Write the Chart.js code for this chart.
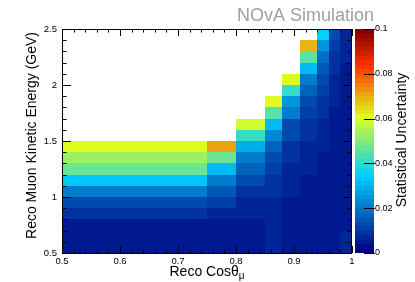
<!DOCTYPE html>
<html>
<head>
<meta charset="utf-8">
<script src="https://cdn.jsdelivr.net/npm/chart.js@4.4.1/dist/chart.umd.min.js"></script>
<style>
  html, body { margin: 0; padding: 0; background: #fff; }
</style>
</head>
<body>
<canvas id="myChart" width="415" height="282"></canvas>
<script>
// bin edges (variable width in cos theta, 0.1 GeV in energy)
let xEdges = [0.5, 0.75, 0.8, 0.85, 0.88, 0.91, 0.94, 0.96, 0.98, 1.0];
let yEdges = [0.5, 0.6, 0.7, 0.8, 0.9, 1.0, 1.1, 1.2, 1.3, 1.4, 1.5,
              1.6, 1.7, 1.8, 1.9, 2.0, 2.1, 2.2, 2.3, 2.4, 2.5];

// statistical uncertainty per cos bin, lowest energy bin first
let unc050 = [0.004, 0.004, 0.0055, 0.008, 0.012, 0.022, 0.033, 0.047, 0.054, 0.060];
let unc075 = [0.004, 0.004, 0.005, 0.007, 0.010, 0.015, 0.020, 0.030, 0.047, 0.070];
let unc080 = [0.005, 0.005, 0.005, 0.006, 0.007, 0.009, 0.012, 0.016, 0.021, 0.029, 0.040, 0.059];
let unc085 = [0.006, 0.006, 0.006, 0.006, 0.007, 0.008, 0.009, 0.011, 0.014, 0.017, 0.023, 0.031, 0.045, 0.061];
let unc088 = [0.005, 0.005, 0.005, 0.005, 0.005, 0.006, 0.006, 0.007, 0.008, 0.009, 0.012, 0.014, 0.020, 0.026, 0.041, 0.060];
let unc091 = [0.005, 0.005, 0.005, 0.005, 0.005, 0.005, 0.005, 0.006, 0.006, 0.007, 0.008, 0.009, 0.011, 0.013, 0.016, 0.021, 0.030, 0.045, 0.069];
let unc094 = [0.005, 0.005, 0.005, 0.005, 0.005, 0.005, 0.005, 0.005, 0.005, 0.006, 0.006, 0.007, 0.008, 0.009, 0.010, 0.012, 0.015, 0.019, 0.025, 0.034];
let unc096 = [0.004, 0.004, 0.004, 0.004, 0.004, 0.004, 0.004, 0.004, 0.004, 0.005, 0.005, 0.005, 0.005, 0.006, 0.006, 0.007, 0.008, 0.009, 0.011, 0.013];
let unc098 = [0.006, 0.006, 0.005, 0.005, 0.005, 0.005, 0.005, 0.005, 0.005, 0.005, 0.005, 0.005, 0.005, 0.005, 0.005, 0.005, 0.005, 0.006, 0.006, 0.007];

let columns = [unc050, unc075, unc080, unc085, unc088, unc091, unc094, unc096, unc098];

let xTickLabels = ['0.5', '0.6', '0.7', '0.8', '0.9', '1'];
let yTickLabels = ['0.5', '1', '1.5', '2', '2.5'];
let zTickLabels = ['0', '0.02', '0.04', '0.06', '0.08', '0.1'];

const zMax = 0.1;
const nBands = 50;

// ROOT style rainbow palette
const palStops = [0.00, 0.34, 0.61, 0.84, 1.00];
const palR = [0.00, 0.00, 0.87, 1.00, 0.51];
const palG = [0.00, 0.81, 1.00, 0.20, 0.00];
const palB = [0.51, 1.00, 0.12, 0.00, 0.00];

function bandColor(idx) {
    let t = idx / (nBands - 1);
    let k = 0;
    while (k < palStops.length - 2 && t > palStops[k + 1]) k++;
    let f = (t - palStops[k]) / (palStops[k + 1] - palStops[k]);
    let r = Math.round(255 * (palR[k] + f * (palR[k + 1] - palR[k])));
    let g = Math.round(255 * (palG[k] + f * (palG[k + 1] - palG[k])));
    let b = Math.round(255 * (palB[k] + f * (palB[k + 1] - palB[k])));
    return 'rgb(' + r + ',' + g + ',' + b + ')';
}

function valueColor(v) {
    let idx = Math.floor(v / zMax * nBands);
    if (idx > nBands - 1) idx = nBands - 1;
    if (idx < 0) idx = 0;
    return bandColor(idx);
}

let cells = [];
columns.forEach((col, i) => {
    col.forEach((v, j) => {
        cells.push({
            x: (xEdges[i] + xEdges[i + 1]) / 2,
            y: (yEdges[j] + yEdges[j + 1]) / 2,
            x0: xEdges[i], x1: xEdges[i + 1],
            y0: yEdges[j], y1: yEdges[j + 1],
            v: v
        });
    });
});

const FONT = "'Liberation Sans', Arial, sans-serif";

function line(ctx, x0, y0, x1, y1) {
    ctx.beginPath();
    ctx.moveTo(x0, y0);
    ctx.lineTo(x1, y1);
    ctx.stroke();
}

const heatPlugin = {
    id: 'heat',
    beforeDatasetsDraw(chart) {
        const ctx = chart.ctx;
        const xs = chart.scales.x, ys = chart.scales.y, zs = chart.scales.z;
        const area = chart.chartArea;
        ctx.save();

        // cells
        chart.data.datasets[0].data.forEach(c => {
            let l = Math.round(xs.getPixelForValue(c.x0));
            let r = Math.round(xs.getPixelForValue(c.x1));
            let t = Math.round(ys.getPixelForValue(c.y1));
            let b = Math.round(ys.getPixelForValue(c.y0));
            ctx.fillStyle = valueColor(c.v);
            ctx.fillRect(l, t, r - l, b - t);
        });

        // frame
        let L = Math.round(area.left), R = Math.round(area.right);
        let T = Math.round(area.top), B = Math.round(area.bottom);
        ctx.strokeStyle = '#000';
        ctx.lineWidth = 1;
        ctx.strokeRect(L + 0.5, T + 0.5, R - L - 1, B - T);

        // x ticks, minor every 0.02
        for (let k = 0; k <= 25; k++) {
            let v = 0.5 + k * 0.02;
            let px = Math.round(xs.getPixelForValue(v)) + 0.5;
            let len = (k % 5 === 0) ? 7 : 3.5;
            line(ctx, px, B, px, B - len);
            line(ctx, px, T, px, T + len);
        }
        // y ticks, minor every 0.1
        for (let k = 0; k <= 20; k++) {
            let v = 0.5 + k * 0.1;
            let py = Math.round(ys.getPixelForValue(v)) + 0.5;
            let len = (k % 5 === 0) ? 9 : 4.5;
            line(ctx, L, py, L + len, py);
            line(ctx, R, py, R - len, py);
        }

        // colour bar
        let cx0 = R + 3, cx1 = R + 22;
        for (let i = 0; i < nBands; i++) {
            let top = Math.round(zs.getPixelForValue((i + 1) * zMax / nBands));
            let bot = Math.round(zs.getPixelForValue(i * zMax / nBands));
            ctx.fillStyle = bandColor(i);
            ctx.fillRect(cx0, top, cx1 - cx0, bot - top);
        }
        zs.ticks.forEach(t => {
            let py = Math.round(zs.getPixelForValue(t.value)) + 0.5;
            line(ctx, cx1 - 10, py, cx1 + 1, py);
        });

        // titles
        ctx.fillStyle = '#000';
        ctx.textBaseline = 'alphabetic';
        let main = 'Reco Cos\u03B8';
        ctx.font = '14px ' + FONT;
        let w1 = ctx.measureText(main).width;
        ctx.font = '10px ' + FONT;
        let w2 = ctx.measureText('\u03BC').width;
        let xc = (L + R) / 2 - (w1 + w2) / 2;
        ctx.font = '14px ' + FONT;
        ctx.textAlign = 'left';
        ctx.fillText(main, xc, 276);
        ctx.font = '10px ' + FONT;
        ctx.fillText('\u03BC', xc + w1, 279);

        ctx.font = '14px ' + FONT;
        ctx.save();
        ctx.translate(32, 32);
        ctx.rotate(-Math.PI / 2);
        ctx.textAlign = 'right';
        ctx.textBaseline = 'middle';
        ctx.fillText('Reco Muon Kinetic Energy (GeV)', 0, 0);
        ctx.restore();

        ctx.save();
        ctx.translate(402, 140);
        ctx.rotate(-Math.PI / 2);
        ctx.textAlign = 'center';
        ctx.textBaseline = 'middle';
        ctx.fillText('Statistical Uncertainty', 0, 0);
        ctx.restore();

        ctx.fillStyle = '#a0a0a0';
        ctx.font = '18px ' + FONT;
        ctx.textAlign = 'right';
        ctx.textBaseline = 'alphabetic';
        ctx.fillText('NOvA Simulation', 374, 21);

        ctx.restore();
    }
};

const tickFont = { family: FONT, size: 9.5 };
const zTickFont = { family: FONT, size: 9 };

const config = {
    type: 'scatter',
    data: {
        datasets: [{
            label: 'uncertainty',
            data: cells,
            pointRadius: 0,
            pointHoverRadius: 0
        }]
    },
    options: {
        responsive: false,
        animation: false,
        layout: { padding: { top: 29, left: 0, right: 0, bottom: 0 } },
        plugins: { legend: { display: false }, tooltip: { enabled: false } },
        scales: {
            x: {
                type: 'linear', position: 'bottom', min: 0.5, max: 1.0,
                grid: { display: false, drawTicks: false }, border: { display: false },
                ticks: {
                    stepSize: 0.1, autoSkip: false, maxRotation: 0, padding: 3,
                    color: '#000', font: tickFont,
                    callback: (v, i) => xTickLabels[i]
                },
                afterFit: s => { s.height = 29; }
            },
            y: {
                type: 'linear', position: 'left', min: 0.5, max: 2.5,
                grid: { display: false, drawTicks: false }, border: { display: false },
                ticks: {
                    stepSize: 0.5, autoSkip: false, padding: 5,
                    color: '#000', font: tickFont,
                    callback: (v, i) => yTickLabels[i]
                },
                afterFit: s => { s.width = 62; }
            },
            z: {
                type: 'linear', position: 'right', min: 0, max: zMax,
                grid: { display: false, drawTicks: false }, border: { display: false },
                ticks: {
                    stepSize: 0.02, autoSkip: false, padding: 23,
                    color: '#000', font: zTickFont,
                    callback: (v, i) => zTickLabels[i]
                },
                afterFit: s => { s.width = 63; }
            }
        }
    },
    plugins: [heatPlugin]
};

let chart = new Chart(document.getElementById('myChart'), config);
</script>
</body>
</html>
